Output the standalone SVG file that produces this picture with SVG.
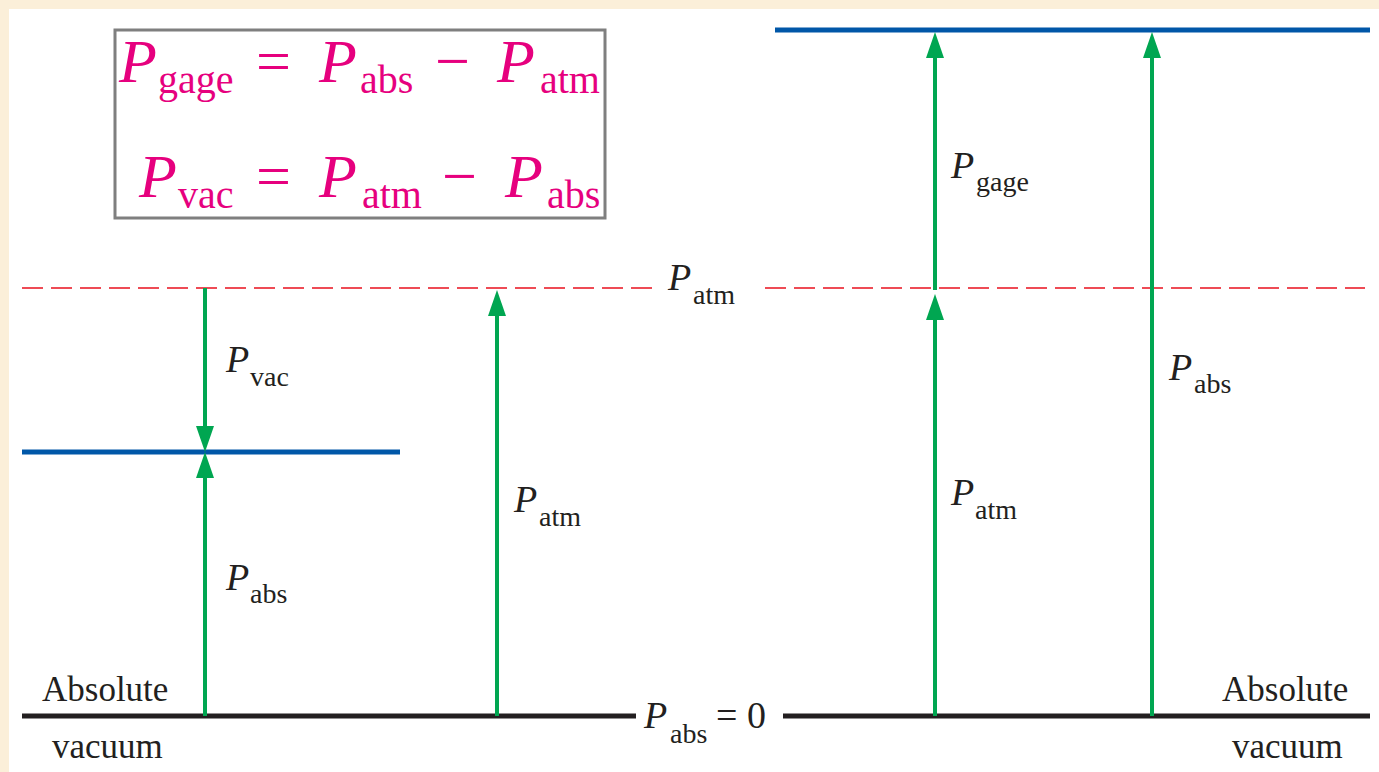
<svg xmlns="http://www.w3.org/2000/svg" width="1379" height="772" viewBox="0 0 1379 772">
<defs>
<style>
.f{font-family:'Liberation Serif','Times New Roman',serif;fill:#E6007E}
.l{font-family:'Liberation Serif','Times New Roman',serif;fill:#231F20}
.it{font-style:italic}
.g{stroke:#00A651;stroke-width:4;fill:none}
.b{stroke:#0057A8;stroke-width:5}
.k{stroke:#231F20;stroke-width:5}
.d{stroke:#EE4B55;stroke-width:2;stroke-dasharray:21 8}
</style>
<marker id="ah" viewBox="0 0 26 18" refX="6" refY="9" markerWidth="26" markerHeight="18" markerUnits="userSpaceOnUse" orient="auto">
<path d="M0,0 L26,9 L0,18 Z" fill="#00A651"/>
</marker>
</defs>
<rect x="0" y="0" width="1379" height="772" fill="#FBEFD9"/>
<rect x="9" y="9" width="1370" height="763" fill="#FFFFFF"/>

<g id="formula-box">
<rect x="115" y="30" width="490" height="188" fill="#FFFFFF" stroke="#7F7F7F" stroke-width="3"/>
<text class="f" font-size="62"><tspan class="it" x="119" y="82">P</tspan><tspan font-size="40" x="158" y="93">gage</tspan><tspan x="256" y="82">=</tspan><tspan class="it" x="319" y="82">P</tspan><tspan font-size="40" x="360" y="93">abs</tspan><tspan x="435" y="82">−</tspan><tspan class="it" x="497" y="82">P</tspan><tspan font-size="40" x="540" y="93">atm</tspan></text>
<text class="f" font-size="62"><tspan class="it" x="139" y="197">P</tspan><tspan font-size="40" x="178" y="208">vac</tspan><tspan x="256" y="197">=</tspan><tspan class="it" x="319" y="197">P</tspan><tspan font-size="40" x="362" y="208">atm</tspan><tspan x="442" y="197">−</tspan><tspan class="it" x="505" y="197">P</tspan><tspan font-size="40" x="547" y="208">abs</tspan></text>
</g>

<g id="levels">
<line class="d" x1="22" y1="288" x2="652" y2="288"/>
<line class="d" x1="765" y1="288" x2="1365" y2="288"/>
<line class="b" x1="22" y1="452" x2="400" y2="452"/>
<line class="b" x1="775" y1="30" x2="1370" y2="30"/>
<line class="k" x1="22" y1="716" x2="636" y2="716"/>
<line class="k" x1="783" y1="716" x2="1370" y2="716"/>
</g>

<g id="connectors">
<line class="g" x1="205" y1="288" x2="205" y2="432" marker-end="url(#ah)"/>
<line class="g" x1="205" y1="716" x2="205" y2="472" marker-end="url(#ah)"/>
<line class="g" x1="497" y1="716" x2="497" y2="310" marker-end="url(#ah)"/>
<line class="g" x1="935" y1="716" x2="935" y2="314" marker-end="url(#ah)"/>
<line class="g" x1="935" y1="290" x2="935" y2="52" marker-end="url(#ah)"/>
<line class="g" x1="1152" y1="716" x2="1152" y2="52" marker-end="url(#ah)"/>
</g>

<g id="label-pvac"><text class="l" font-size="38"><tspan class="it" x="226" y="372">P</tspan><tspan font-size="28" x="250" y="386">vac</tspan></text></g>
<g id="label-pabs-left"><text class="l" font-size="38"><tspan class="it" x="226" y="590">P</tspan><tspan font-size="28" x="250" y="603">abs</tspan></text></g>
<g id="label-patm-mid"><text class="l" font-size="38"><tspan class="it" x="514" y="512">P</tspan><tspan font-size="28" x="539" y="526">atm</tspan></text></g>
<g id="label-patm-top"><text class="l" font-size="38"><tspan class="it" x="668" y="290">P</tspan><tspan font-size="28" x="693" y="304">atm</tspan></text></g>
<g id="label-pabs-zero"><text class="l" font-size="38"><tspan class="it" x="644" y="728">P</tspan><tspan font-size="28" x="670" y="743">abs</tspan><tspan x="716" y="728">= 0</tspan></text></g>
<g id="label-pgage"><text class="l" font-size="38"><tspan class="it" x="951" y="178">P</tspan><tspan font-size="28" x="976" y="191">gage</tspan></text></g>
<g id="label-patm-right"><text class="l" font-size="38"><tspan class="it" x="951" y="505">P</tspan><tspan font-size="28" x="975" y="519">atm</tspan></text></g>
<g id="label-pabs-right"><text class="l" font-size="38"><tspan class="it" x="1169" y="380">P</tspan><tspan font-size="28" x="1194" y="393">abs</tspan></text></g>

<g id="abs-vac-left"><text class="l" font-size="35" x="42" y="701">Absolute</text><text class="l" font-size="35" x="52" y="758">vacuum</text></g>
<g id="abs-vac-right"><text class="l" font-size="35" x="1222" y="701">Absolute</text><text class="l" font-size="35" x="1232" y="758">vacuum</text></g>
</svg>
